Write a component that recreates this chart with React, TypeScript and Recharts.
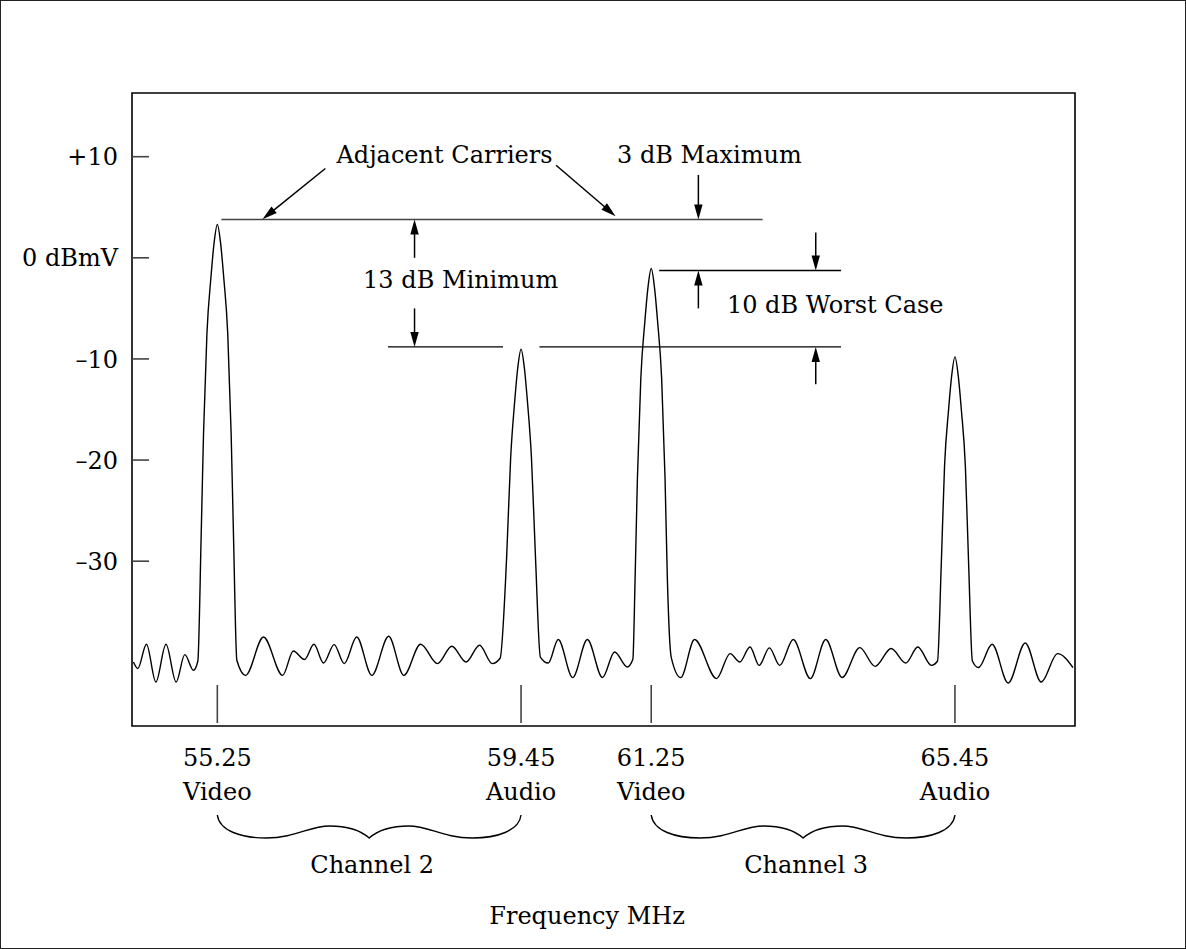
import React from "react";
import {
    LineChart,
    Line,
    XAxis,
    YAxis,
    ReferenceLine,
    ReferenceDot,
    ReferenceArea,
} from "recharts";

// spectrum trace (MHz / dBmV)
const traceFreq = [
    54.09, 54.15, 54.27, 54.4, 54.54, 54.68, 54.8, 54.92, 54.98,
    55.027, 55.059, 55.106, 55.162, 55.204, 55.25, 55.296, 55.338, 55.394, 55.441, 55.473, 55.52,
    55.641, 55.888, 56.153, 56.301, 56.455, 56.586, 56.719, 56.865, 57.005, 57.177,
    57.386, 57.619, 57.829, 58.061, 58.294, 58.493, 58.689, 58.876, 59.052,
    59.16, 59.25, 59.306, 59.362, 59.404, 59.45, 59.496, 59.538, 59.594, 59.65, 59.717,
    59.826, 59.964, 60.164, 60.367, 60.575, 60.744, 60.918,
    60.996, 61.027, 61.059, 61.106, 61.162, 61.204, 61.25, 61.296, 61.338, 61.394, 61.441, 61.473, 61.526,
    61.658, 61.849, 62.153, 62.341, 62.474, 62.616, 62.743, 62.884, 63.026, 63.214,
    63.45, 63.663, 63.889, 64.134, 64.346, 64.568, 64.771, 64.936, 65.124,
    65.209, 65.26, 65.306, 65.362, 65.404, 65.45, 65.496, 65.538, 65.594, 65.64, 65.691,
    65.775, 65.964, 66.186, 66.422, 66.643, 66.869, 67.082,
];
const traceLevel = [
    -39.97, -40.62, -38.22, -41.95, -38.22, -41.95, -39.24, -40.79, -39.9,
    -27.3, -17.4, -7.5, -1.9, 1.4, 3.3, 1.4, -1.9, -7.5, -17.4, -27.3, -39.8,
    -41.29, -37.5, -41.29, -38.88, -39.73, -38.22, -40.07, -38.25, -40.13, -37.5,
    -41.29, -37.43, -41.29, -38.22, -40.13, -38.42, -39.97, -38.32, -40.13,
    -39.6, -29.7, -19.8, -14.2, -10.9, -9.04, -10.9, -14.2, -19.8, -29.7, -39.48,
    -40.07, -37.75, -41.51, -37.75, -41.51, -38.98, -40.46,
    -39.7, -31.7, -21.8, -11.9, -6.3, -3.0, -1.06, -3.0, -6.3, -11.9, -21.8, -31.7, -39.48,
    -41.51, -37.75, -41.61, -39.14, -39.97, -38.49, -40.3, -38.57, -40.3, -37.75,
    -41.61, -37.75, -41.51, -38.55, -40.4, -38.64, -40.07, -38.49, -40.3,
    -39.87, -30.5, -20.6, -15.0, -11.7, -9.8, -11.7, -15.0, -20.6, -30.5, -39.87,
    -40.52, -38.22, -42.05, -38.09, -41.95, -39.14, -40.52,
];

const carrierFreq = [55.25, 59.45, 61.25, 65.45];
const carrierName = ["Video", "Audio", "Video", "Audio"];

const levelTicks = [10, 0, -10, -20, -30];
const levelTickText = ["+10", "0 dBmV", "\u201310", "\u201320", "\u201330"];

const channelName = ["Channel 2", "Channel 3"];

// reference levels used by the annotation lines
const adjacentLevel = 3.79;
const audioLevel = -8.81;
const video3Level = -1.26;

const X_DOMAIN: [number, number] = [54.07, 67.11];
const Y_DOMAIN: [number, number] = [-46.3, 16.3];

const FONT = '"DejaVu Serif", serif';
const FS = 24;
const INK = "#000";

const data = traceFreq.map((f, i) => ({ f, level: traceLevel[i] }));

const LevelTick = (props: any) => {
    const { x, y, payload } = props;
    const i = levelTicks.indexOf(payload.value);
    return (
        <g>
            <line x1={x} x2={x + 17} y1={y} y2={y} stroke="#444" strokeWidth={1.6} />
            <text x={x - 14} y={y} dy="0.36em" textAnchor="end" fontFamily={FONT} fontSize={FS} fill={INK}>
                {levelTickText[i]}
            </text>
        </g>
    );
};

const CarrierTick = (props: any) => {
    const { x, y, payload } = props;
    const i = carrierFreq.indexOf(payload.value);
    return (
        <g>
            <line x1={x} x2={x} y1={y - 41} y2={y - 3} stroke="#444" strokeWidth={1.6} />
            <text x={x} y={y + 40} textAnchor="middle" fontFamily={FONT} fontSize={FS} fill={INK}>
                {payload.value.toFixed(2)}
            </text>
            <text x={x} y={y + 74} textAnchor="middle" fontFamily={FONT} fontSize={FS} fill={INK}>
                {carrierName[i]}
            </text>
        </g>
    );
};

const arrowShape = (p: any) => {
    const { x1, y1, x2, y2 } = p;
    const dx = x2 - x1;
    const dy = y2 - y1;
    const len = Math.hypot(dx, dy) || 1;
    const ux = dx / len;
    const uy = dy / len;
    const hl = 15;
    const hw = 4.2;
    const bx = x2 - ux * hl;
    const by = y2 - uy * hl;
    return (
        <g>
            <line x1={x1} y1={y1} x2={bx + ux * 2} y2={by + uy * 2} stroke={INK} strokeWidth={1.5} />
            <path
                d={`M${x2},${y2} L${bx - uy * hw},${by + ux * hw} L${bx + uy * hw},${by - ux * hw} Z`}
                fill={INK}
            />
        </g>
    );
};

const braceShape = (label: string) => (p: any) => {
    const { x1, x2, y1: y } = p;
    const w = x2 - x1;
    const cx = (x1 + x2) / 2;
    const d = [
        `M${x1},${y}`,
        `C${x1 + 2},${y + 16} ${x1 + 0.08 * w},${y + 23} ${x1 + 0.16 * w},${y + 23}`,
        `C${x1 + 0.26 * w},${y + 23} ${x1 + 0.3 * w},${y + 11} ${x1 + 0.37 * w},${y + 11}`,
        `C${x1 + 0.43 * w},${y + 11} ${cx - 8},${y + 16} ${cx},${y + 23}`,
        `C${cx + 8},${y + 16} ${x2 - 0.43 * w},${y + 11} ${x2 - 0.37 * w},${y + 11}`,
        `C${x2 - 0.3 * w},${y + 11} ${x2 - 0.26 * w},${y + 23} ${x2 - 0.16 * w},${y + 23}`,
        `C${x2 - 0.08 * w},${y + 23} ${x2 - 2},${y + 16} ${x2},${y}`,
    ].join(" ");
    return (
        <g>
            <path d={d} fill="none" stroke={INK} strokeWidth={1.4} />
            <text x={cx + 3} y={y + 58} textAnchor="middle" fontFamily={FONT} fontSize={FS} fill={INK}>
                {label}
            </text>
        </g>
    );
};

const textShape = (label: string) => (p: any) => (
    <text x={p.cx} y={p.cy} textAnchor="middle" fontFamily={FONT} fontSize={FS} fill={INK}>
        {label}
    </text>
);

const arrows: { from: [number, number]; to: [number, number] }[] = [
    { from: [56.744, 8.83], to: [55.874, 3.82] },
    { from: [59.934, 9.16], to: [60.757, 4.11] },
    { from: [57.977, 0.0], to: [57.977, adjacentLevel] },
    { from: [57.977, -5.0], to: [57.977, audioLevel] },
    { from: [61.902, 8.2], to: [61.902, adjacentLevel] },
    { from: [63.525, 2.5], to: [63.525, video3Level] },
    { from: [61.902, -5.0], to: [61.902, video3Level] },
    { from: [63.525, -12.5], to: [63.525, audioLevel] },
];

const App = () => {
    return (
        <div
            style={{
                width: 1186,
                height: 949,
                boxSizing: "border-box",
                border: "1px solid #222",
                background: "#fff",
            }}
        >
            <style>{`body{margin:0;background:#fff}`}</style>
            <LineChart
                width={1184}
                height={947}
                data={data}
                margin={{ top: 92, right: 110, bottom: 0, left: 0 }}
            >
                <XAxis
                    dataKey="f"
                    type="number"
                    domain={X_DOMAIN}
                    allowDataOverflow
                    ticks={carrierFreq}
                    interval={0}
                    tickSize={0}
                    tickMargin={0}
                    tickLine={false}
                    axisLine={false}
                    height={222}
                    tick={<CarrierTick />}
                />
                <YAxis
                    type="number"
                    domain={Y_DOMAIN}
                    allowDataOverflow
                    ticks={levelTicks}
                    interval={0}
                    tickSize={0}
                    tickMargin={0}
                    tickLine={false}
                    axisLine={false}
                    width={131}
                    tick={<LevelTick />}
                />
                <ReferenceArea
                    x1={X_DOMAIN[0]}
                    x2={X_DOMAIN[1]}
                    y1={Y_DOMAIN[0]}
                    y2={Y_DOMAIN[1]}
                    fill="none"
                    fillOpacity={0}
                    stroke="#000"
                    strokeWidth={1.6}
                    ifOverflow="visible"
                />

                {/* reference levels */}
                <ReferenceLine
                    segment={[{ x: 55.306, y: adjacentLevel }, { x: 62.79, y: adjacentLevel }]}
                    stroke="#444"
                    strokeWidth={1.6}
                />
                <ReferenceLine
                    segment={[{ x: 57.61, y: audioLevel }, { x: 59.201, y: audioLevel }]}
                    stroke={INK}
                    strokeWidth={1.4}
                />
                <ReferenceLine
                    segment={[{ x: 59.704, y: audioLevel }, { x: 63.875, y: audioLevel }]}
                    stroke={INK}
                    strokeWidth={1.4}
                />
                <ReferenceLine
                    segment={[{ x: 61.36, y: video3Level }, { x: 63.875, y: video3Level }]}
                    stroke={INK}
                    strokeWidth={1.4}
                />

                {arrows.map((a, i) => (
                    <ReferenceLine
                        key={"ar" + i}
                        segment={[{ x: a.from[0], y: a.from[1] }, { x: a.to[0], y: a.to[1] }]}
                        shape={arrowShape}
                        ifOverflow="visible"
                    />
                ))}

                <ReferenceDot x={58.392} y={9.36} shape={textShape("Adjacent Carriers")} ifOverflow="visible" />
                <ReferenceDot x={62.054} y={9.36} shape={textShape("3 dB Maximum")} ifOverflow="visible" />
                <ReferenceDot x={58.615} y={-3.01} shape={textShape("13 dB Minimum")} ifOverflow="visible" />
                <ReferenceDot x={63.794} y={-5.48} shape={textShape("10 dB Worst Case")} ifOverflow="visible" />

                {/* channel braces below the axis */}
                <ReferenceLine
                    segment={[{ x: carrierFreq[0], y: -55.1 }, { x: carrierFreq[1], y: -55.1 }]}
                    shape={braceShape(channelName[0])}
                    ifOverflow="visible"
                />
                <ReferenceLine
                    segment={[{ x: carrierFreq[2], y: -55.1 }, { x: carrierFreq[3], y: -55.1 }]}
                    shape={braceShape(channelName[1])}
                    ifOverflow="visible"
                />
                <ReferenceDot x={60.363} y={-65.87} shape={textShape("Frequency MHz")} ifOverflow="visible" />

                <Line
                    dataKey="level"
                    type="monotone"
                    stroke={INK}
                    strokeWidth={1.4}
                    dot={false}
                    activeDot={false}
                    isAnimationActive={false}
                />
            </LineChart>
        </div>
    );
};

export default App;
